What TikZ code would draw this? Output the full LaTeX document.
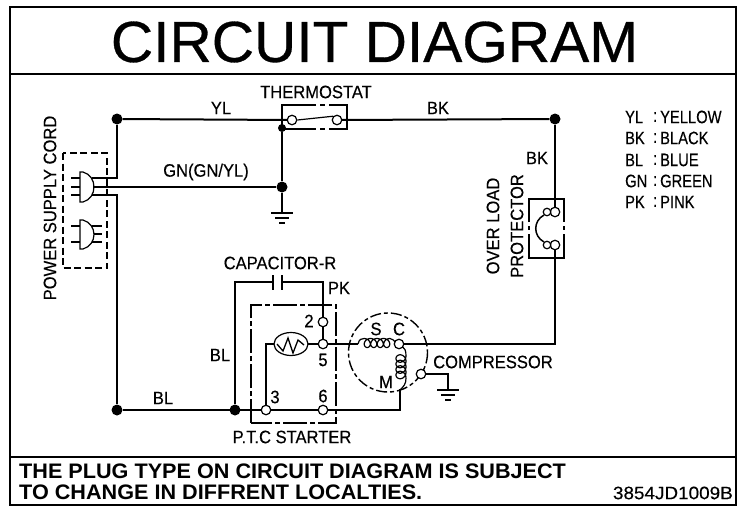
\documentclass[tikz,border=0pt]{standalone}
\usepackage{fontspec}
\setmainfont{Liberation Sans}
\newfontfamily\labfont[FakeBold=0.35]{Liberation Sans}
\newfontfamily\titlefont[FakeBold=0.5]{Liberation Sans}
\tikzset{
  wire/.style={line width=2pt},
  thin wire/.style={line width=1.2pt},
  dot/.style={circle,fill=black,inner sep=0pt,minimum size=11pt},
  smalldot/.style={circle,fill=black,inner sep=0pt,minimum size=8pt},
  term/.style={circle,draw,fill=white,line width=1.2pt,inner sep=0pt,minimum size=9.5pt},
  smallterm/.style={circle,draw,fill=white,line width=1.2pt,inner sep=0pt,minimum size=7.5pt},
  lab/.style={inner sep=0pt,font=\labfont\fontsize{18}{18}\selectfont,xscale=0.92},
  legend/.style={lab,anchor=west,xscale=0.89},
  boxline/.style={line width=1.2pt},
  dashbox/.style={line width=1.4pt,dash pattern=on 7pt off 3.5pt},
  chain/.style={line width=1.4pt,dash pattern=on 24pt off 3pt on 5pt off 3pt},
  circdash/.style={line width=1.4pt,dash pattern=on 11pt off 3pt on 4pt off 3pt}
}
\begin{document}
\begin{tikzpicture}[x=1pt,y=-1pt]
\useasboundingbox (0,0) rectangle (737,507);
\draw[line width=2pt] (10,7) rectangle (736,505);
\draw[line width=1.6pt] (10,74) -- (736,74);
\draw[line width=1.6pt] (10,457) -- (736,457);
\node[inner sep=0pt,font=\titlefont\fontsize{58}{58}\selectfont,xscale=1.01] (title) at (374.5,42) {CIRCUIT DIAGRAM};
\node[inner sep=0pt,anchor=west,font=\bfseries\fontsize{21}{21}\selectfont,xscale=1.03] (n1) at (19,471) {THE PLUG TYPE ON CIRCUIT DIAGRAM IS SUBJECT};
\node[inner sep=0pt,anchor=west,font=\bfseries\fontsize{21}{21}\selectfont,xscale=1.03] (n2) at (19,492) {TO CHANGE IN DIFFRENT LOCALTIES.};
\node[inner sep=0pt,anchor=east,font=\labfont\fontsize{18}{18}\selectfont,xscale=1.05] (code) at (733,493) {3854JD1009B};
% junctions
\node[dot] (d1) at (117,119) {};
\node[dot] (d2) at (555,119) {};
\node[dot] (d3) at (282,187) {};
\node[smalldot] (d4) at (282,128) {};
\node[dot] (d5) at (117,410) {};
\node[dot] (d6) at (235,410) {};
% terminals positions
\coordinate (t1) at (292,120);
\coordinate (t2) at (337,120);
\coordinate (p1) at (555,212);
\coordinate (p2) at (555,245);
\coordinate (T2) at (323,322);
\coordinate (T5) at (323,344);
\coordinate (T3) at (266,410);
\coordinate (T6) at (323,410);
\coordinate (TC) at (399,344);
\coordinate (TG) at (421,374);
\coordinate (gnd1) at (282,213);
\coordinate (gnd2) at (448,390);
% wires
\draw[wire] (d1) -- (t1);
\draw[wire] (t2) -- (d2);
\draw[wire] (d2) -- (p1);
\draw[wire] (p2) -- (555,344) -- (TC);
\draw[wire] (d1) -- (117,178) -- (92,178);
\draw[wire] (92,195) -- (117,195) -- (d5);
\draw[wire] (d5) -- (T6);
\draw[wire] (d4) -- (d3);
\draw[thin wire] (93,187) -- (d3);
\draw[thin wire] (d3) -- (gnd1);
\draw[wire] (T6) -- (400,410) -- (400,389);
% ground 1
\draw[thin wire] (271,213) -- (293,213) (275,218) -- (289,218) (279,223) -- (285,223);
% thermostat
\draw[boxline] (316,105) -- (282,105) -- (282,129) -- (316,129);
\draw[boxline] (320,105) -- (325,105) (320,129) -- (325,129);
\draw[boxline] (329,105) -- (347,105) -- (347,129) -- (329,129);
\node[term] (st1) at (t1) {};
\node[term] (st2) at (t2) {};
\draw[thin wire] (st1.east) -- (st2.north west);
% plug top
\draw[thin wire] (80,172) -- (80,202) -- (83,202) .. controls (90,200) and (94,194) .. (94,187) .. controls (94,180) and (90,174) .. (83,172) -- cycle;
\draw[thin wire] (71,178) -- (80,178) (71,187) -- (80,187) (71,195) -- (80,195);
% plug bottom
\draw[thin wire] (80,220) -- (80,249) -- (83,249) .. controls (90,247) and (94,241) .. (94,234.5) .. controls (94,228) and (90,222) .. (83,220) -- cycle;
\draw[thin wire] (71,226) -- (80,226) (71,242) -- (80,242);
\draw[thin wire] (92,226) -- (102,226) (94,234) -- (102,234) (92,242) -- (102,242);
\draw[dashbox] (63,153) rectangle (107,268);
% capacitor
\draw[thin wire] (d6) -- (235,282) -- (273,282);
\draw[thin wire] (282,282) -- (323,282) -- (T2);
\draw[line width=1.5pt] (273,275) -- (273,290) (282,275) -- (282,290);
% PTC
\draw[thin wire] (T2) -- (T5);
\draw[thin wire] (T3) -- (266,344) -- (275,344);
\draw[chain] (251,423) -- (251,305) -- (336,305) -- (336,423) -- cycle;
\draw[thin wire,fill=white] (291,344) ellipse [x radius=17,y radius=11.5];
\draw[line width=1.3pt] (277,344) -- (283,351) -- (288,338) -- (293,353) -- (298,340) -- (304,345);
\draw[thin wire] (308,344) -- (358,344);
\node[term] (nT2) at (T2) {};
\node[term] (nT5) at (T5) {};
\node[term] (nT3) at (T3) {};
\node[term] (nT6) at (T6) {};
% compressor
\draw[circdash] (388,352.5) circle [radius=39.5];
\draw[thin wire] (358,344) .. controls (359,339) and (362,338.5) .. (364,338.5);
\draw[thin wire,domain=180:1620,samples=200,smooth] plot ({360.75+6.5*\x/360-4.5*sin(\x)},{343+4.5*cos(\x)});
\draw[thin wire] (390,338.5) .. controls (393,338.5) and (394,341) .. (396,343);
\draw[thin wire] (402,346) .. controls (405,348) and (406,351) .. (406,356);
\draw[thin wire,domain=180:1620,samples=200,smooth] plot ({401-5*cos(\x)},{353+5.5*\x/360-5*sin(\x)});
\draw[thin wire] (406,378) .. controls (406,384) and (404,386) .. (400,390);
\node[term] (nTC) at (TC) {};
\draw[thin wire] (TG) -- (448,374) -- (gnd2);
\draw[thin wire] (437,390) -- (459,390) (441,395) -- (455,395) (445,400) -- (451,400);
\node[term] (nTG) at (TG) {};
% protector
\draw[boxline] (529,222) -- (529,199) -- (564,199) -- (564,222);
\draw[boxline] (529,226) -- (529,230) (564,226) -- (564,230);
\draw[boxline] (529,234) -- (529,258) -- (564,258) -- (564,234);
\node[term] (np1) at (p1) {};
\node[term] (np2) at (p2) {};
\node[smallterm] (np3) at (547,212) {};
\node[smallterm] (np4) at (547,245) {};
\draw[line width=1.5pt] (np3.south west) .. controls (533,221) and (533,236) .. (np4.north west);
% labels
\node[lab] (lthermo) at (316,92) {THERMOSTAT};
\node[lab] (lyl) at (221,108) {YL};
\node[lab] (lbk1) at (438,108) {BK};
\node[lab] (lbk2) at (537,158) {BK};
\node[lab] (lgn) at (206,172) {GN(GN/YL)};
\node[lab] (lcap) at (280,263) {CAPACITOR-R};
\node[lab] (lpk) at (339,288) {PK};
\node[lab] (lbl1) at (220,355) {BL};
\node[lab] (lbl2) at (163,398) {BL};
\node[lab] (l2) at (309,321) {2};
\node[lab] (l5) at (323,360) {5};
\node[lab] (l3) at (275,397) {3};
\node[lab] (l6) at (323,396) {6};
\node[lab] (lS) at (376,329) {S};
\node[lab] (lC) at (399,329) {C};
\node[lab] (lM) at (386,382) {M};
\node[lab,anchor=west] (lcomp) at (433,362) {COMPRESSOR};
\node[lab] (lptc) at (292,437) {P.T.C STARTER};
\node[rotate=90,lab] (lcord) at (50,208) {POWER SUPPLY CORD};
\node[rotate=90,lab] (lover) at (493,226) {OVER LOAD};
\node[rotate=90,lab] (lprot) at (517,226) {PROTECTOR};
% legend
\node[legend] (a1) at (625,117) {YL};
\node[legend] (a2) at (625,138) {BK};
\node[legend] (a3) at (625,160) {BL};
\node[legend] (a4) at (625,181) {GN};
\node[legend] (a5) at (625,202) {PK};
\foreach \y/\t/\n in {117/YELLOW/b1,138/BLACK/b2,160/BLUE/b3,181/GREEN/b4,202/PINK/b5}{
  \node[legend] (c\n) at (653,\y) {:};
  \node[legend] (\n) at (660,\y) {\t};
}
\end{tikzpicture}
\end{document}
